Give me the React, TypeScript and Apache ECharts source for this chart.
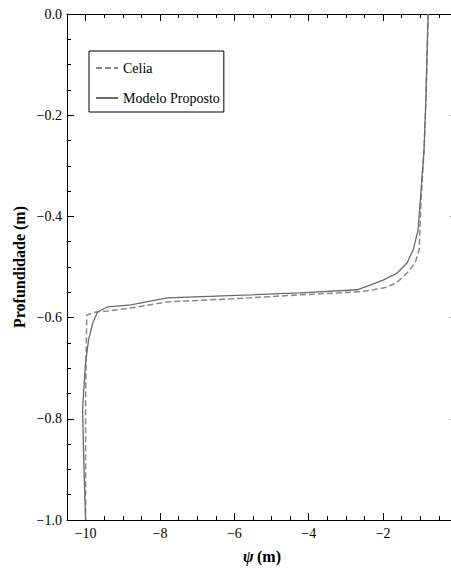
import React, { useEffect, useRef } from 'react';
import * as echarts from 'echarts';

// ---- data ----
const seriesNames = ['Celia', 'Modelo Proposto'];
const xMajorTicks = [-10, -8, -6, -4, -2];
const yMajorTicks = [0, -0.2, -0.4, -0.6, -0.8, -1.0];

const celiaPsi = [-0.79, -0.85, -0.9, -0.98, -1.01, -1.03, -1.14, -1.36, -1.62, -1.89, -2.27, -2.62, -4.23, -5.57, -7.8, -8.79, -9.41, -9.73, -9.97, -10.0, -10.0];
const celiaDepth = [0, -0.17, -0.269, -0.368, -0.427, -0.466, -0.492, -0.512, -0.53, -0.54, -0.545, -0.549, -0.555, -0.561, -0.569, -0.581, -0.587, -0.589, -0.595, -0.763, -1.0];

const modeloPsi = [-0.79, -0.85, -0.9, -0.98, -1.06, -1.19, -1.36, -1.62, -2.0, -2.35, -2.7, -4.23, -5.57, -7.8, -8.79, -9.41, -9.68, -9.81, -9.92, -10.0, -10.05, -10.08, -10.05, -10.0];
const modeloDepth = [0, -0.17, -0.269, -0.348, -0.427, -0.466, -0.492, -0.512, -0.526, -0.536, -0.545, -0.551, -0.555, -0.561, -0.575, -0.579, -0.589, -0.611, -0.644, -0.69, -0.743, -0.783, -0.881, -1.0];

const SERIF = 'Liberation Serif';
const fmt = (v: number, digits: number) => {
  const s = Math.abs(v).toFixed(digits);
  return v < -1e-9 ? '\u2212' + s : s;
};
const zip = (a: number[], b: number[]) => a.map((v, i) => [v, b[i]]);

export default function App() {
  const ref = useRef<HTMLDivElement>(null);
  useEffect(() => {
    if (!ref.current) return;
    const chart = echarts.init(ref.current, undefined, { renderer: 'svg' });
    const axisLine = { show: true, onZero: false, lineStyle: { color: '#000', width: 1 } };
    const tickStyle = { color: '#000', width: 1 };
    const xBase = {
      type: 'value',
      min: -10.5,
      max: 0,
      splitLine: { show: false },
    };
    const isMajorX = (v: number) => xMajorTicks.some((t) => Math.abs(t - v) < 1e-6);
    const option: any = {
      animation: false,
      textStyle: { fontFamily: SERIF },
      grid: { left: 67, top: 14, width: 390.5, height: 506, containLabel: false, outerBoundsMode: 'none' },
      xAxis: [
        {
          ...xBase, position: 'bottom', interval: 0.5, axisLine,
          axisTick: { inside: true, length: 4, lineStyle: tickStyle },
          axisLabel: {
            formatter: (v: number) => (isMajorX(v) ? fmt(v, 0) : ''),
            margin: 6, color: '#000', fontFamily: SERIF, fontSize: 14,
          },
        },
        {
          ...xBase, position: 'bottom', axisLine: { show: false, onZero: false },
          axisTick: { inside: true, length: 7, lineStyle: tickStyle, customValues: xMajorTicks },
          axisLabel: { show: false },
        },
        {
          ...xBase, position: 'top', interval: 0.5, axisLine,
          axisTick: { inside: true, length: 4, lineStyle: tickStyle },
          axisLabel: { show: false },
        },
        {
          ...xBase, position: 'top', axisLine: { show: false, onZero: false },
          axisTick: { inside: true, length: 7, lineStyle: tickStyle, customValues: xMajorTicks },
          axisLabel: { show: false },
        },
      ],
      yAxis: [
        {
          type: 'value', min: -1, max: 0, interval: 0.2, position: 'left', axisLine,
          axisTick: { inside: true, length: 7, lineStyle: tickStyle },
          minorTick: { show: true, splitNumber: 4, length: 4, lineStyle: tickStyle },
          splitLine: { show: false },
          minorSplitLine: { show: false },
          axisLabel: {
            formatter: (v: number) => fmt(v, 1),
            margin: 5, color: '#000', fontFamily: SERIF, fontSize: 14,
          },
        },
        {
          type: 'value', min: -1, max: 0, interval: 0.2, position: 'right', axisLine,
          axisTick: { inside: true, length: 7, lineStyle: tickStyle },
          minorTick: { show: true, splitNumber: 4, length: 4, lineStyle: tickStyle },
          splitLine: { show: false },
          minorSplitLine: { show: false },
          axisLabel: { show: false },
        },
      ],
      legend: {
        data: seriesNames,
        orient: 'vertical',
        left: 89,
        top: 51,
        padding: [9, 4, 6, 6],
        itemWidth: 22,
        itemHeight: 14,
        itemGap: 14,
        borderColor: '#000',
        borderWidth: 1,
        backgroundColor: '#fff',
        selectedMode: false,
        itemStyle: { opacity: 0 },
        textStyle: { fontFamily: SERIF, fontSize: 14, color: '#000', lineHeight: 16 },
      },
      series: [
        {
          name: seriesNames[0], type: 'line', data: zip(celiaPsi, celiaDepth),
          xAxisIndex: 0, yAxisIndex: 0,
          symbol: 'none', showSymbol: false, silent: true,
          lineStyle: { color: '#8a8a8a', width: 1.5, type: [6, 3] },
          itemStyle: { color: '#8a8a8a' },
        },
        {
          name: seriesNames[1], type: 'line', data: zip(modeloPsi, modeloDepth),
          xAxisIndex: 0, yAxisIndex: 0,
          symbol: 'none', showSymbol: false, silent: true,
          lineStyle: { color: '#6a6a6a', width: 1.3 },
          itemStyle: { color: '#6a6a6a' },
        },
      ],
      graphic: [
        {
          type: 'text', x: 262, y: 556,
          style: {
            text: '{i|\u03c8} {b|(m)}',
            rich: {
              i: { fontFamily: SERIF, fontSize: 16, fontWeight: 'bold', fontStyle: 'italic', fill: '#000' },
              b: { fontFamily: SERIF, fontSize: 16, fontWeight: 'bold', fill: '#000' },
            },
            textAlign: 'center', textVerticalAlign: 'middle',
            align: 'center', verticalAlign: 'middle',
          },
        },
        {
          type: 'text', x: 19, y: 267, rotation: Math.PI / 2,
          style: {
            text: 'Profundidade (m)',
            fontFamily: SERIF, fontSize: 16, fontWeight: 'bold', fill: '#000',
            textAlign: 'center', textVerticalAlign: 'middle',
            align: 'center', verticalAlign: 'middle',
          },
        },
      ],
    };
    chart.setOption(option);
    return () => chart.dispose();
  }, []);
  return (
    <div
      ref={ref}
      style={{ position: 'fixed', left: 0, top: 0, width: 451, height: 568, background: '#fff' }}
    />
  );
}
